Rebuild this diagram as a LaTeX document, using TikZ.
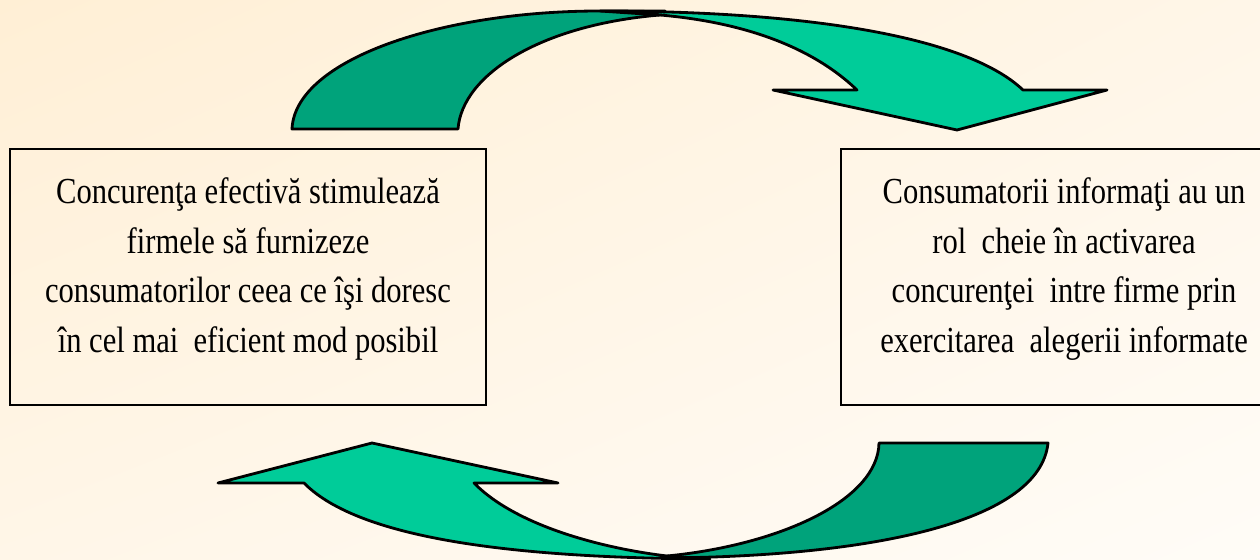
\documentclass[tikz,border=0pt]{standalone}
\usepackage{fontspec}
\setmainfont{Liberation Serif}
\usetikzlibrary{shadings}
\definecolor{sageata}{HTML}{00CC99}
\definecolor{sageatainch}{HTML}{00A37B}
\definecolor{fundalsus}{HTML}{FFEFD5}
\definecolor{fundalmij}{HTML}{FFF6E8}
\definecolor{fundaljos}{HTML}{FFFCF7}
\tikzset{
	caseta/.style={draw, line width=1.3pt, minimum height=5.12cm, inner sep=0pt},
	textcaseta/.style={align=center, yscale=1.2, inner sep=0pt, font=\fontsize{17.4}{23.6}\selectfont},
	contur/.style={draw, line width=1.6pt, line join=round},
}
\begin{document}
\begin{tikzpicture}[x=0.02cm, y=-0.02cm]
	\useasboundingbox (0, 0) rectangle (1260, 560);
	\shade[upper left=fundalsus, upper right=fundalmij, lower left=fundalmij, lower right=fundaljos] (0, 0) rectangle (1260, 560);
	\node[caseta, minimum width=9.52cm] (concurenta) at (248, 277) {};
	\node[textcaseta] (concurenta-text) at (248, 269) {Concurenţa efectivă stimulează\\firmele să furnizeze\\consumatorilor ceea ce îşi doresc\\în cel mai~ eficient mod posibil};
	\node[caseta, minimum width=8.92cm] (consumatori) at (1064, 277) {};
	\node[textcaseta] (consumatori-text) at (1064, 269) {Consumatorii informaţi au un\\rol~ cheie în activarea\\concurenţei~ intre firme prin\\exercitarea~ alegerii informate};
	% sageata de sus
	\draw[contur, fill=sageatainch] (292, 129) .. controls (295, 60) and (440, 11) .. (600, 11) -- (665, 11) -- (660, 15) .. controls (540, 25) and (462, 75) .. (458, 129) -- cycle;
	\draw[contur, fill=sageata] (600, 11) .. controls (800, 11) and (965, 35) .. (1023, 90) -- (1107, 90) -- (957, 130) -- (773, 90) -- (857, 90) .. controls (810, 45) and (740, 22) .. (660, 15) -- cycle;
	% sageata de jos
	\draw[contur, fill=sageatainch] (879, 443) -- (1048, 443) .. controls (1040, 520) and (880, 556) .. (667, 558) -- (667, 556) .. controls (780, 545) and (878, 500) .. (879, 443) -- cycle;
	\draw[contur, fill=sageata] (304, 483) -- (218, 483) -- (372, 443) -- (558, 483) -- (474, 483) .. controls (515, 525) and (600, 548) .. (667, 556) -- (710, 559) .. controls (520, 558) and (360, 540) .. (304, 483) -- cycle;
\end{tikzpicture}
\end{document}
